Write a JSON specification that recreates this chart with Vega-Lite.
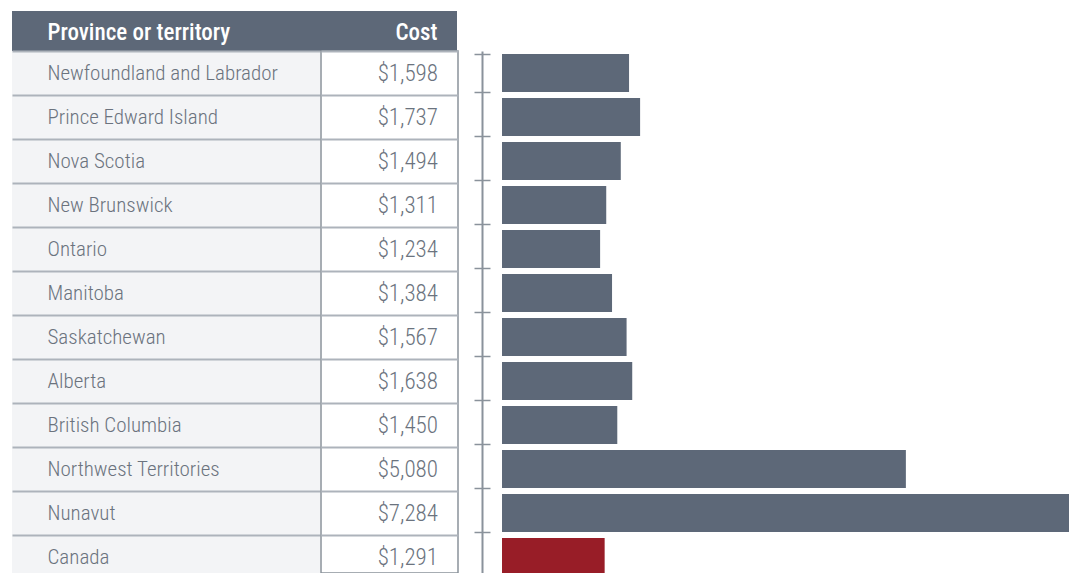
{
  "$schema": "https://vega.github.io/schema/vega-lite/v6.json",
  "padding": {"left": 12, "top": 11, "right": 0, "bottom": 0},
  "background": "white",
  "config": {
    "font": "Roboto Condensed, Roboto",
    "view": {"stroke": null},
    "concat": {"spacing": 0}
  },
  "datasets": {
    "costs": [
      {"province": "Newfoundland and Labrador", "cost": 1598, "level": "Province or territory"},
      {"province": "Prince Edward Island", "cost": 1737, "level": "Province or territory"},
      {"province": "Nova Scotia", "cost": 1494, "level": "Province or territory"},
      {"province": "New Brunswick", "cost": 1311, "level": "Province or territory"},
      {"province": "Ontario", "cost": 1234, "level": "Province or territory"},
      {"province": "Manitoba", "cost": 1384, "level": "Province or territory"},
      {"province": "Saskatchewan", "cost": 1567, "level": "Province or territory"},
      {"province": "Alberta", "cost": 1638, "level": "Province or territory"},
      {"province": "British Columbia", "cost": 1450, "level": "Province or territory"},
      {"province": "Northwest Territories", "cost": 5080, "level": "Province or territory"},
      {"province": "Nunavut", "cost": 7284, "level": "Province or territory"},
      {"province": "Canada", "cost": 1291, "level": "National"}
    ],
    "header": [{"name": "Province or territory", "costLabel": "Cost"}]
  },
  "spacing": -11,
  "vconcat": [
    {
      "spacing": 0,
      "hconcat": [
        {
          "width": 308,
          "height": 40,
          "data": {"name": "header"},
          "view": {"fill": "#5d6878", "stroke": null},
          "mark": {"type": "text", "opacity": 0},
          "encoding": {
            "y": {"field": "name", "type": "nominal", "scale": {"paddingInner": 0, "paddingOuter": 0},
              "axis": {"title": null, "orient": "left", "domain": false, "ticks": false, "tickSize": 0, "grid": false,
                "labelAlign": "left", "labelPadding": -35, "labelFontSize": 23, "labelColor": "white", "labelOffset": 1,
                "labelFont": "Roboto Condensed, Roboto", "labelFontWeight": 500, "labelLimit": 0, "zindex": 1}},
            "text": {"field": "name"}
          }
        },
        {
          "width": 137,
          "height": 40,
          "data": {"name": "header"},
          "view": {"fill": "#5d6878", "stroke": null},
          "mark": {"type": "text", "opacity": 0},
          "encoding": {
            "y": {"field": "costLabel", "type": "nominal", "scale": {"paddingInner": 0, "paddingOuter": 0},
              "axis": {"title": null, "orient": "right", "domain": false, "ticks": false, "tickSize": 0, "grid": false,
                "labelAlign": "right", "labelPadding": -20, "labelFontSize": 23, "labelColor": "white", "labelOffset": 1,
                "labelFont": "Roboto Condensed, Roboto", "labelFontWeight": 500, "labelLimit": 0, "zindex": 1}},
            "text": {"field": "costLabel"}
          }
        }
      ]
    },
    {
      "spacing": 0,
      "hconcat": [
        {
          "width": 308,
          "height": 522,
          "data": {"name": "costs"},
          "view": {"fill": "#f3f4f6", "stroke": null},
          "mark": {"type": "text", "opacity": 0},
          "encoding": {
            "y": {
              "field": "province", "type": "nominal", "sort": null,
              "scale": {"range": [0, 528], "paddingInner": 0, "paddingOuter": 0},
              "axis": {"title": null, "orient": "left", "domain": false, "ticks": false, "tickSize": 0,
                "labelAlign": "left", "labelPadding": -35, "labelFontSize": 21, "labelColor": "#6b737e",
                "labelFont": "Roboto Condensed, Roboto", "labelFontWeight": 300, "labelLimit": 0,
                "grid": true, "tickBand": "extent", "gridColor": "#adb3bb", "gridWidth": 2, "zindex": 1}
            },
            "text": {"field": "province"}
          }
        },
        {
          "width": 137,
          "height": 522,
          "data": {"name": "costs"},
          "view": {"fill": "white", "stroke": "#8a929b", "strokeWidth": 1.5},
          "mark": {"type": "text", "align": "right", "baseline": "middle", "dx": -20, "dy": 1, "fontSize": 23, "fontWeight": 300, "color": "#6b737e", "font": "Roboto Condensed, Roboto"},
          "encoding": {
            "y": {
              "field": "province", "type": "nominal", "sort": null,
              "scale": {"range": [0, 528], "paddingInner": 0, "paddingOuter": 0},
              "axis": {"title": null, "domain": false, "ticks": false, "labels": false,
                "grid": true, "tickBand": "extent", "gridColor": "#adb3bb", "gridWidth": 2}
            },
            "x": {"value": "width"},
            "text": {"field": "cost", "type": "quantitative", "format": "$,.0f"}
          }
        },
        {
          "width": 612,
          "height": 522,
          "data": {"name": "costs"},
          "layer": [
            {
              "mark": {"type": "bar"},
              "encoding": {
                "y": {
                  "field": "province", "type": "nominal", "sort": null,
                  "scale": {"range": [0, 528], "paddingInner": 0.14, "paddingOuter": 0.07},
                  "axis": {"title": null, "orient": "left", "offset": -31, "domain": false, "labels": false,
                    "ticks": true, "tickSize": 16, "tickColor": "#8a929b", "tickWidth": 1.5, "tickBand": "extent", "grid": false}
                },
                "x": {"field": "cost", "type": "quantitative", "scale": {"domain": [-541, 7157], "clamp": true, "nice": false, "zero": false}, "axis": null},
                "color": {"field": "level", "type": "nominal", "scale": {"domain": ["Province or territory", "National"], "range": ["#5d6878", "#981d27"]}, "legend": null}
              }
            },
            {
              "mark": {"type": "bar", "opacity": 0},
              "encoding": {
                "y": {
                  "field": "province", "type": "nominal", "sort": null,
                  "axis": {"title": null, "orient": "left", "offset": -23, "domain": true, "domainColor": "#8a929b", "domainWidth": 2, "labels": false, "ticks": false, "grid": false}
                },
                "x": {"field": "cost", "type": "quantitative", "axis": null}
              }
            }
          ],
          "resolve": {"axis": {"y": "independent"}}
        }
      ]
    }
  ]
}
